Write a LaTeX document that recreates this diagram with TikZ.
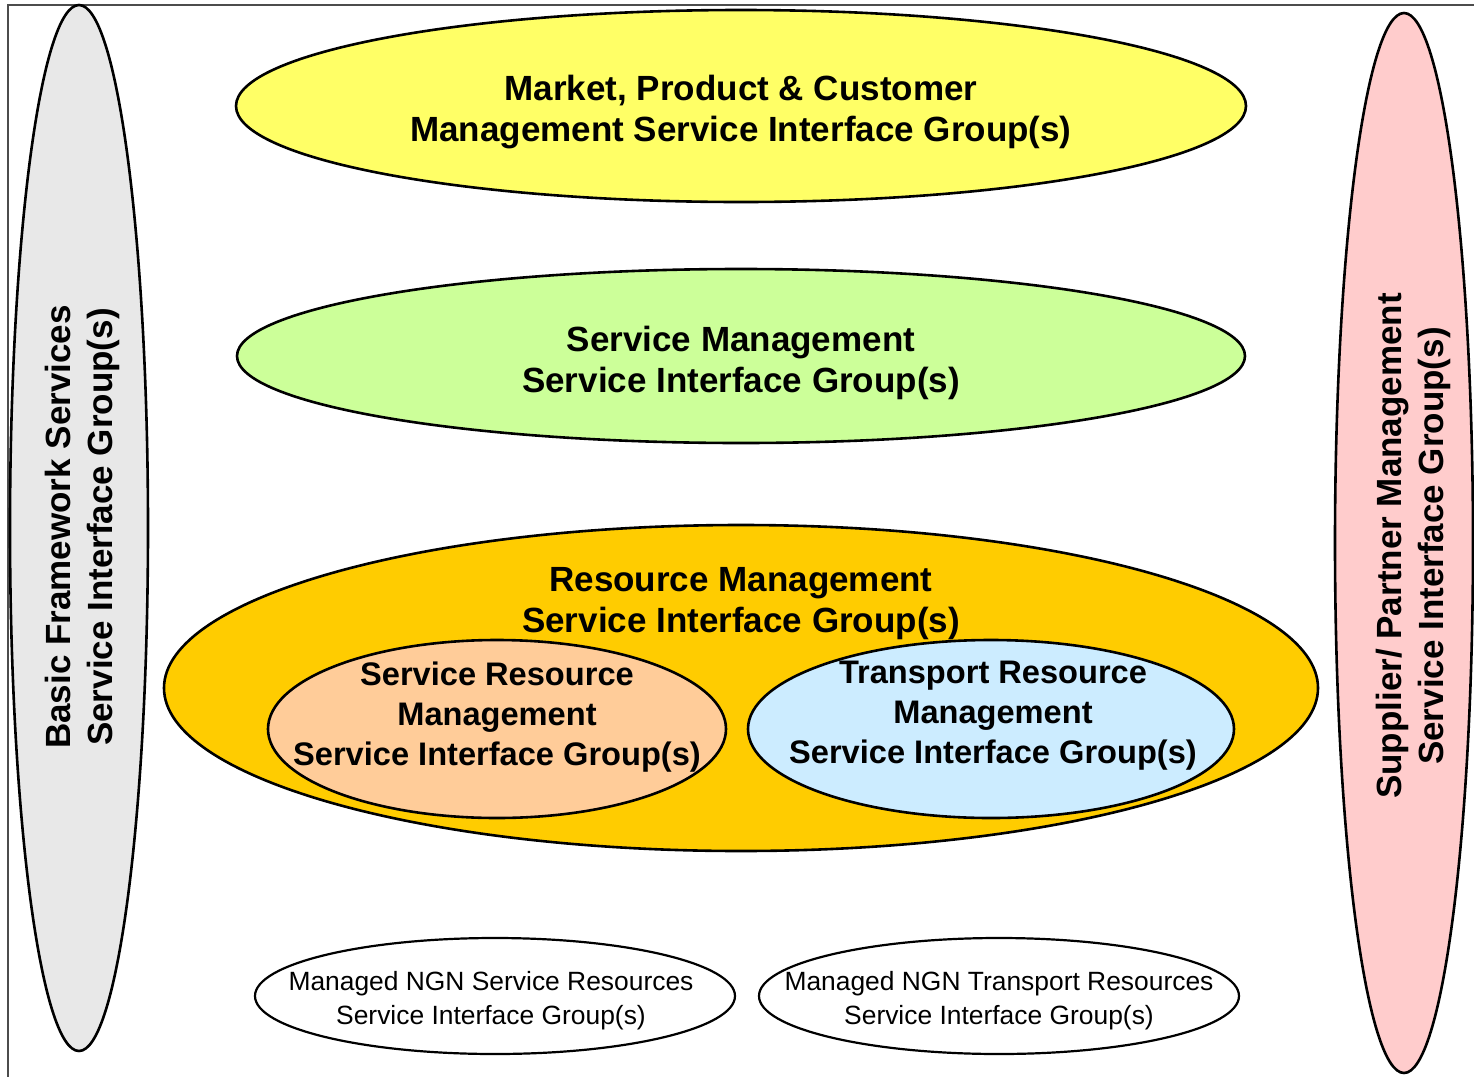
\documentclass[tikz,border=0pt]{standalone}
\usepackage{fontspec}
\setmainfont{Liberation Sans}
\usetikzlibrary{shapes.geometric}
\definecolor{mktyellow}{HTML}{FFFF66}
\definecolor{svcgreen}{HTML}{CCFF99}
\definecolor{resorange}{HTML}{FFCC00}
\definecolor{srpeach}{HTML}{FFCC99}
\definecolor{trblue}{HTML}{CCECFF}
\definecolor{basegray}{HTML}{E8E8E8}
\definecolor{suppink}{HTML}{FFCCCC}
\tikzset{
x=0.5pt, y=-0.5pt, % one unit is one pixel of the sketch
group/.style={ellipse, draw, line width=1.3pt, inner sep=0pt}, % every interface group
bigtext/.style={align=center, font=\bfseries\fontsize{17.5}{20.5}\selectfont}, % main group names
midtext/.style={align=center, font=\bfseries\fontsize{16.3}{20}\selectfont}, % the two inner groups
smalltext/.style={align=center, font=\fontsize{13.2}{17}\selectfont}, % managed NGN groups
sidetext/.style={align=center, rotate=90, font=\bfseries\fontsize{17.5}{21}\selectfont}, % the side groups
}
\begin{document}
\begin{tikzpicture}
\useasboundingbox (0,0) rectangle (1474,1077);
\draw[gray!60!black, line width=1pt] (8,1077) -- (8,5) -- (1474,5);

% side groups
\node[group, fill=basegray, minimum width=69pt, minimum height=523pt] (basic) at (79,528) {};
\node[sidetext] (basictext) at (82,527) {Basic Framework Services\\Service Interface Group(s)};
\node[group, fill=suppink, minimum width=69pt, minimum height=530pt] (supplier) at (1404,543) {};
\node[sidetext] (suppliertext) at (1413,546) {Supplier/ Partner Management\\Service Interface Group(s)};

% management layers
\node[group, fill=mktyellow, minimum width=505pt, minimum height=96pt] (market) at (741,106) {};
\node[bigtext] (markettext) at (741,112) {Market, Product \& Customer\\Management Service Interface Group(s)};
\node[group, fill=svcgreen, minimum width=504pt, minimum height=87pt] (service) at (741,356) {};
\node[bigtext] (servicetext) at (741,363) {Service Management\\Service Interface Group(s)};
\node[group, fill=resorange, minimum width=577pt, minimum height=163pt] (resource) at (741,688) {};
\node[bigtext] (resourcetext) at (741,604) {Resource Management\\Service Interface Group(s)};
\node[group, fill=srpeach, minimum width=229pt, minimum height=89pt] (srm) at (497,729) {};
\node[midtext] (srmtext) at (497,717) {Service Resource\\Management\\Service Interface Group(s)};
\node[group, fill=trblue, minimum width=243pt, minimum height=89pt] (trm) at (991,729) {};
\node[midtext] (trmtext) at (993,716) {Transport Resource\\Management\\Service Interface Group(s)};

% managed resources
\node[group, fill=white, line width=1.1pt, minimum width=240pt, minimum height=58pt] (ngnsr) at (495,996) {};
\node[smalltext] (ngnsrtext) at (491,1001) {Managed NGN Service Resources\\Service Interface Group(s)};
\node[group, fill=white, line width=1.1pt, minimum width=240pt, minimum height=58pt] (ngntr) at (999,996) {};
\node[smalltext] (ngntrtext) at (999,1001) {Managed NGN Transport Resources\\Service Interface Group(s)};
\end{tikzpicture}
\end{document}
